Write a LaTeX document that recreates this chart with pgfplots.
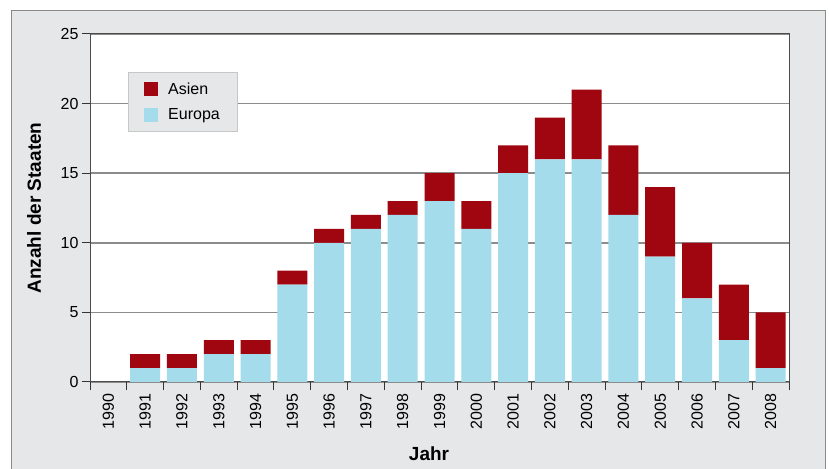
\documentclass[border=0pt]{standalone}
\usepackage{pgfplots}
\pgfplotsset{compat=1.18}
\usepackage{pgfplotstable}
\usepackage{fontspec}
\setmainfont{Liberation Sans}

\definecolor{asien}{HTML}{A00610}
\definecolor{europa}{HTML}{A5DCEC}
\definecolor{panel}{HTML}{E6E7E9}
\definecolor{framegray}{HTML}{8A8A8A}
\definecolor{gridgray}{HTML}{8C8C8C}

% Jahr (Index ab 1990), Europa, Asien
\pgfplotstableread{
idx eu as
0  0  0
1  1  1
2  1  1
3  2  1
4  2  1
5  7  1
6  10 1
7  11 1
8  12 1
9  13 2
10 11 2
11 15 2
12 16 3
13 16 5
14 12 5
15 9  5
16 6  4
17 3  4
18 1  4
}\staaten

\begin{document}
\begin{tikzpicture}[x=1pt,y=1pt]
\useasboundingbox (0,0) rectangle (829,468);
\fill[panel] (11.5,-5) rectangle (825.5,457);
\draw[framegray, line width=1pt] (11.5,-5) -- (11.5,457) -- (825.5,457) -- (825.5,-5);
\begin{axis}[
  at={(90pt,86pt)}, anchor=south west,
  scale only axis, width=699pt, height=348pt,
  ybar stacked, bar width=30pt,
  xmin=-0.5, xmax=18.5, ymin=0, ymax=25,
  xtick={0,...,18},
  xticklabels={1990,1991,1992,1993,1994,1995,1996,1997,1998,1999,2000,2001,2002,2003,2004,2005,2006,2007,2008},
  major x tick style={draw=none},
  minor xtick={-0.5,0.5,...,18.5},
  minor tick length=8pt,
  major tick length=8pt,
  tick align=outside,
  xtick pos=lower, ytick pos=left,
  ytick={0,5,...,25},
  tick style={black!80, line width=1pt},
  ymajorgrids,
  grid style={gridgray, line width=1.5pt},
  axis line style={black!70, line width=1pt},
  axis background/.style={fill=white},
  tick label style={font=\fontsize{16}{19}\selectfont},
  /pgf/number format/assume math mode=true,
  xticklabel style={rotate=90, anchor=east},
  xlabel={Jahr}, ylabel={Anzahl der Staaten},
  every axis x label/.style={at={(axis description cs:0.485,-0.205)}, anchor=center, font=\fontsize{19}{22}\selectfont\bfseries},
  every axis y label/.style={at={(axis description cs:-0.080,0.5)}, rotate=90, anchor=center, font=\fontsize{19}{22}\selectfont\bfseries},
  reverse legend,
  legend style={at={(axis description cs:0.054,0.891)}, anchor=north west,
    fill=panel, draw=black!22, line width=1pt,
    font=\fontsize{16}{19}\selectfont,
    inner xsep=16pt, inner ysep=8pt, row sep=9pt},
  legend image code/.code={\fill[#1] (0pt,-7pt) rectangle (14pt,7pt); \path (22pt,0pt);},
  legend cell align=left,
]
\addplot[fill=europa, draw=none] table[x=idx, y=eu] {\staaten};
\addplot[fill=asien, draw=none] table[x=idx, y=as] {\staaten};
\legend{Europa, Asien}
\end{axis}
\end{tikzpicture}
\end{document}
